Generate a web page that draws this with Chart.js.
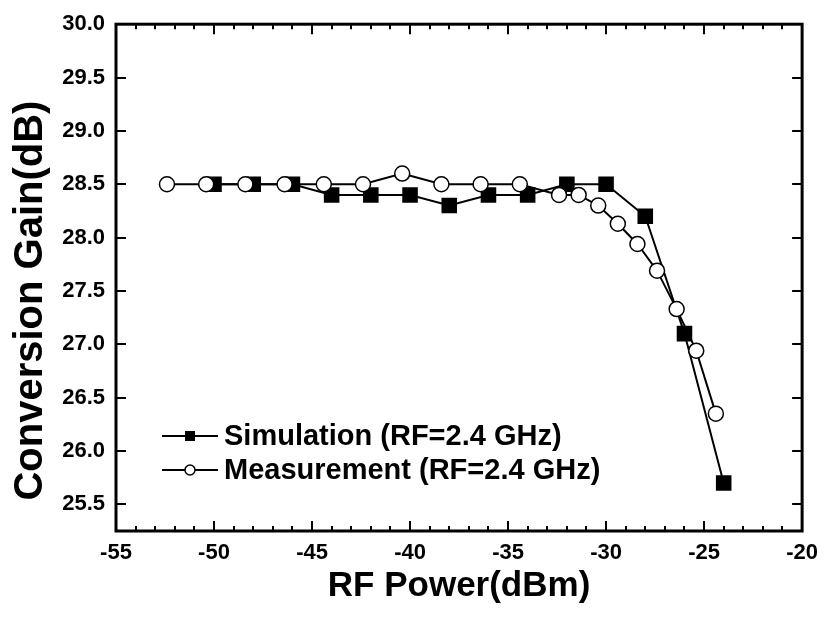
<!DOCTYPE html>
<html>
<head>
<meta charset="utf-8">
<script src="https://cdn.jsdelivr.net/npm/chart.js@4.4.0/dist/chart.umd.min.js"></script>
<style>
  html, body { margin: 0; padding: 0; background: #fff; }
  #wrap { width: 827px; height: 625px; }
</style>
</head>
<body>
<div id="wrap"><canvas id="gainChart" width="827" height="625"></canvas></div>
<script>
// values
const simPower = [-50, -48, -46, -44, -42, -40, -38, -36, -34, -32, -30, -28, -26, -24];
const simGain = [28.5, 28.5, 28.5, 28.4, 28.4, 28.4, 28.3, 28.4, 28.4, 28.5, 28.5, 28.2, 27.1, 25.7];

const measPower = [-52.4, -50.4, -48.4, -46.4, -44.4, -42.4, -40.4, -38.4, -36.4, -34.4,
                   -32.4, -31.4, -30.4, -29.4, -28.4, -27.4, -26.4, -25.4, -24.4];
const measGain = [28.5, 28.5, 28.5, 28.5, 28.5, 28.5, 28.6, 28.5, 28.5, 28.5,
                  28.4, 28.4, 28.3, 28.13, 27.94, 27.69, 27.33, 26.94, 26.35];

const xTicks = [-55, -50, -45, -40, -35, -30, -25, -20];
const yTicks = [25.5, 26.0, 26.5, 27.0, 27.5, 28.0, 28.5, 29.0, 29.5, 30.0];
const xMinorStep = 1;

const seriesLabels = ["Simulation (RF=2.4 GHz)", "Measurement (RF=2.4 GHz)"];
const xTitle = "RF Power(dBm)";
const yTitle = "Conversion Gain(dB)";

const FONT = "'Liberation Sans', Arial, sans-serif";

function toPoints(xs, ys) {
    return xs.map((x, i) => ({ x: x, y: ys[i] }));
}

// frame, inward ticks, axis titles and the legend inside the plot
const axisFrame = {
    id: "axisFrame",
    afterDraw(chart) {
        const { ctx, chartArea: a, scales: { x, y } } = chart;
        ctx.save();
        ctx.strokeStyle = "#000";
        ctx.fillStyle = "#000";

        // ticks
        ctx.lineWidth = 2;
        ctx.beginPath();
        for (let v = x.min; v <= x.max + 1e-9; v += xMinorStep) {
            const px = Math.round(x.getPixelForValue(v));
            const len = xTicks.includes(v) ? 10 : 5;
            ctx.moveTo(px, a.bottom);
            ctx.lineTo(px, a.bottom - len);
            ctx.moveTo(px, a.top);
            ctx.lineTo(px, a.top + len);
        }
        yTicks.forEach(v => {
            const py = Math.round(y.getPixelForValue(v));
            ctx.moveTo(a.left, py);
            ctx.lineTo(a.left + 10, py);
            ctx.moveTo(a.right, py);
            ctx.lineTo(a.right - 10, py);
        });
        ctx.stroke();

        // frame
        ctx.lineWidth = 3;
        ctx.lineJoin = "miter";
        ctx.strokeRect(a.left, a.top, a.right - a.left, a.bottom - a.top);

        // axis titles
        ctx.textAlign = "center";
        ctx.textBaseline = "middle";
        ctx.font = "bold 35px " + FONT;
        ctx.fillText(xTitle, (a.left + a.right) / 2, 586);

        ctx.save();
        ctx.translate(31, (a.top + a.bottom) / 2 + 23);
        ctx.rotate(-Math.PI / 2);
        ctx.font = "bold 40px " + FONT;
        ctx.fillText(yTitle, 0, 0);
        ctx.restore();

        // legend
        ctx.textAlign = "left";
        ctx.font = "bold 29px " + FONT;
        chart.data.datasets.forEach(ds => {
            const row = seriesLabels.indexOf(ds.label);
            const ly = 436 + row * 34;
            ctx.lineWidth = 2;
            ctx.beginPath();
            ctx.moveTo(162, ly);
            ctx.lineTo(218, ly);
            ctx.stroke();
            if (ds.pointStyle === "rect") {
                ctx.fillRect(185, ly - 5, 10, 10);
            } else {
                ctx.beginPath();
                ctx.arc(190, ly, 5, 0, Math.PI * 2);
                ctx.fillStyle = "#fff";
                ctx.fill();
                ctx.lineWidth = 1.5;
                ctx.stroke();
                ctx.fillStyle = "#000";
            }
            ctx.fillText(ds.label, 224, ly + 1);
        });

        ctx.restore();
    }
};

new Chart(document.getElementById("gainChart"), {
    type: "line",
    data: {
        datasets: [{
            label: seriesLabels[0],
            data: toPoints(simPower, simGain),
            borderColor: "#000",
            borderWidth: 2,
            pointStyle: "rect",
            pointRadius: 11,
            pointBackgroundColor: "#000",
            pointBorderColor: "#000",
            pointBorderWidth: 0,
            tension: 0,
            order: 1
        }, {
            label: seriesLabels[1],
            data: toPoints(measPower, measGain),
            borderColor: "#000",
            borderWidth: 2,
            pointStyle: "circle",
            pointRadius: 7.5,
            pointBackgroundColor: "#fff",
            pointBorderColor: "#000",
            pointBorderWidth: 1.5,
            tension: 0,
            order: 0
        }]
    },
    options: {
        responsive: false,
        animation: false,
        devicePixelRatio: 1,
        layout: { padding: { top: 19, right: 20, left: 0, bottom: 0 } },
        plugins: {
            legend: { display: false },
            tooltip: { enabled: false }
        },
        scales: {
            x: {
                type: "linear",
                min: -55,
                max: -20,
                afterBuildTicks: s => { s.ticks = xTicks.map(v => ({ value: v })); },
                afterFit: s => { s.height = 94; },
                grid: { display: false, drawTicks: false },
                border: { display: false },
                ticks: {
                    color: "#000",
                    padding: 9,
                    maxRotation: 0,
                    font: { family: FONT, size: 22, weight: "bold" },
                    callback: v => String(v)
                }
            },
            y: {
                min: 25.25,
                max: 30,
                afterBuildTicks: s => { s.ticks = yTicks.map(v => ({ value: v })); },
                afterFit: s => { s.width = 116; },
                grid: { display: false, drawTicks: false },
                border: { display: false },
                ticks: {
                    color: "#000",
                    padding: 11,
                    font: { family: FONT, size: 22, weight: "bold" },
                    callback: v => v.toFixed(1)
                }
            }
        }
    },
    plugins: [axisFrame]
});
</script>
</body>
</html>
